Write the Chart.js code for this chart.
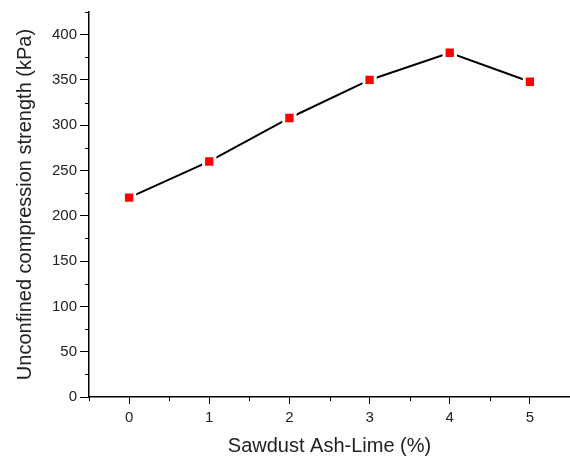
<!DOCTYPE html>
<html>
<head>
<meta charset="utf-8">
<script src="https://cdn.jsdelivr.net/npm/chart.js@4"></script>
<style>
  html, body { margin: 0; padding: 0; background: #fff; }
  #wrap { width: 570px; height: 456px; }
</style>
</head>
<body>
<div id="wrap"><canvas id="c" width="570" height="456"></canvas></div>
<script>
// Sawdust ash-lime content (%) and unconfined compression strength (kPa)
const ashLime = [0, 1, 2, 3, 4, 5];
const ucs = [220, 260, 308, 350, 380, 348];

const xMajorTicks = [0, 1, 2, 3, 4, 5];
const xMinorTicks = [-0.5, 0.5, 1.5, 2.5, 3.5, 4.5, 5.5];
const yMajorTicks = [0, 50, 100, 150, 200, 250, 300, 350, 400];
const yMinorTicks = [25, 75, 125, 175, 225, 275, 325, 375, 425];

const FONT = "'Liberation Sans', Arial, sans-serif";
const INK = '#222';

// Short outward ticks between the labelled ones
const minorTicks = {
  id: 'minorTicks',
  afterDraw(chart) {
    const ctx = chart.ctx;
    const xs = chart.scales.x, ys = chart.scales.y;
    const area = chart.chartArea;
    ctx.save();
    ctx.strokeStyle = '#000';
    ctx.lineWidth = 1;
    xMinorTicks.forEach(v => {
      const px = Math.round(xs.getPixelForValue(v)) + 0.5;
      ctx.beginPath();
      ctx.moveTo(px, area.bottom);
      ctx.lineTo(px, area.bottom + 4);
      ctx.stroke();
    });
    yMinorTicks.forEach(v => {
      const py = Math.round(ys.getPixelForValue(v)) + 0.5;
      ctx.beginPath();
      ctx.moveTo(area.left, py);
      ctx.lineTo(area.left - 4, py);
      ctx.stroke();
    });
    ctx.restore();
  }
};

new Chart(document.getElementById('c'), {
  type: 'line',
  data: {
    datasets: [{
      data: ashLime.map((x, i) => ({ x, y: ucs[i] })),
      borderColor: '#000',
      borderWidth: 2,
      tension: 0,
      pointStyle: 'rect',
      pointRadius: 8,
      pointBackgroundColor: '#ff0000',
      pointBorderColor: '#fff',
      pointBorderWidth: 3,
      clip: false
    }]
  },
  options: {
    responsive: false,
    animation: false,
    events: [],
    layout: { autoPadding: false, padding: { top: 9, right: 0, left: 0, bottom: 0 } },
    plugins: { legend: { display: false }, tooltip: { enabled: false } },
    scales: {
      x: {
        type: 'linear',
        min: -0.5,
        max: 5.5,
        afterBuildTicks: s => { s.ticks = xMajorTicks.map(v => ({ value: v })); },
        afterFit: s => { s.height = 59; },
        border: { display: true, color: '#000', width: 1.5 },
        grid: { display: true, drawOnChartArea: false, drawTicks: true, tickLength: 7, color: '#000', tickWidth: 1 },
        ticks: { color: INK, font: { family: FONT, size: 15 }, padding: 5, maxRotation: 0 },
        title: { display: true, text: 'Sawdust Ash-Lime (%)', color: INK, font: { family: FONT, size: 20, lineHeight: 1 }, padding: { top: 0, bottom: 0 } }
      },
      y: {
        type: 'linear',
        min: 0,
        max: 425,
        afterBuildTicks: s => { s.ticks = yMajorTicks.map(v => ({ value: v })); },
        afterFit: s => { s.width = 89; },
        border: { display: true, color: '#000', width: 1.5 },
        grid: { display: true, drawOnChartArea: false, drawTicks: true, tickLength: 9, color: '#000', tickWidth: 1 },
        ticks: { color: INK, font: { family: FONT, size: 15 }, padding: 3 },
        title: { display: true, text: 'Unconfined compression strength (kPa)', color: INK, font: { family: FONT, size: 20, lineHeight: 1 }, padding: { top: 15, bottom: 0 } }
      }
    }
  },
  plugins: [minorTicks]
});
</script>
</body>
</html>
